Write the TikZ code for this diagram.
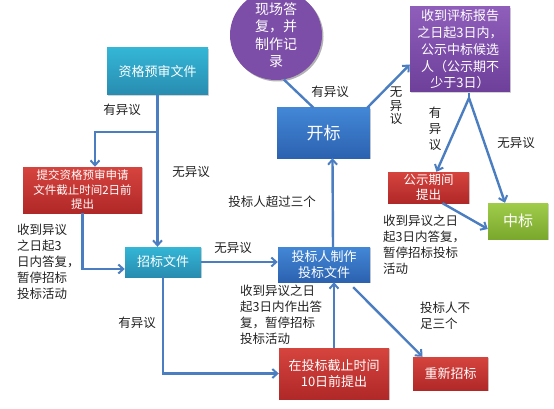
\documentclass[tikz,border=0pt]{standalone}
\usepackage{fontspec}
\setmainfont{Noto Sans CJK SC}
\usetikzlibrary{shadows,shapes.geometric,arrows.meta}
\definecolor{arrc}{HTML}{4A7EC0}
\definecolor{labc}{HTML}{222222}
\definecolor{purtop}{RGB}{142,94,186}
\definecolor{purbot}{RGB}{110,64,154}
\definecolor{purmid}{RGB}{124,78,168}
\begin{document}
\begin{tikzpicture}[x=1pt,y=-1pt,
  box/.style={draw=none,align=center,text=white,inner sep=1pt,font=\fontsize{13}{16.5}\selectfont,
    drop shadow={shadow xshift=1.2pt,shadow yshift=-1.2pt,opacity=0.35}},
  teal/.style={box,top color={rgb,255:red,52;green,182;blue,214},bottom color={rgb,255:red,40;green,140;blue,176}},
  bluebox/.style={box,top color={rgb,255:red,66;green,135;blue,214},bottom color={rgb,255:red,44;green,98;blue,176}},
  redbox/.style={box,top color={rgb,255:red,214;green,68;blue,62},bottom color={rgb,255:red,176;green,40;blue,40}},
  purbox/.style={box,top color=purtop,bottom color=purbot},
  grnbox/.style={box,top color={rgb,255:red,160;green,204;blue,74},bottom color={rgb,255:red,122;green,168;blue,44}},
  arr/.style={draw=arrc,line width=2.4pt,-{Straight Barb[length=5pt,width=9pt,line width=2pt]}},
  ln/.style={draw=arrc,line width=2.4pt},
  lab/.style={text=labc,inner sep=0pt,font=\fontsize{12.5}{16}\selectfont},
  labl/.style={lab,align=left,anchor=north west}]
\useasboundingbox (0,0) rectangle (554,409);
% nodes
\node[teal,minimum width=101pt,minimum height=47pt] (pre) at (157.5,71.5) {资格预审文件};
\node[redbox,minimum width=119pt,minimum height=46pt,font=\fontsize{11.5}{14.5}\selectfont] (redA) at (82.5,190) {提交资格预审申请\\文件截止时间2日前\\提出};
\node[teal,minimum width=76pt,minimum height=30pt] (zb) at (163,262) {招标文件};
\node[bluebox,minimum width=92pt,minimum height=35pt] (tb) at (324,264.5) {投标人制作\\投标文件};
\node[redbox,minimum width=110pt,minimum height=51pt] (redB) at (334,373.5) {在投标截止时间\\10日前提出};
\node[bluebox,minimum width=93pt,minimum height=50pt,font=\fontsize{17}{20}\selectfont] (kb) at (323.5,133) {开标};
\fill[black,opacity=0.3] (277.5,36.5) ellipse[x radius=46pt,y radius=45pt];
\node[ellipse,draw=none,fill=purmid,minimum width=92pt,minimum height=90pt,inner sep=0pt] (ell) at (276,35) {};
\node[align=center,text=white,inner sep=0pt,font=\fontsize{14}{17.5}\selectfont] (ellt) at (ell.center) {现场答\\复，并\\制作记\\录};
\node[purbox,minimum width=100pt,minimum height=85pt,font=\fontsize{13}{16.7}\selectfont] (pur) at (460,49.5) {收到评标报告\\之日起3日内，\\公示中标候选\\人（公示期不\\少于3日）};
\node[redbox,minimum width=81pt,minimum height=31pt,font=\fontsize{12.5}{15}\selectfont] (gs) at (428.5,187.5) {公示期间\\提出};
\node[grnbox,minimum width=60pt,minimum height=36pt,font=\fontsize{15}{18}\selectfont] (zhb) at (518,221) {中标};
\node[redbox,minimum width=75pt,minimum height=33pt] (cx) at (450.5,373.5) {重新招标};
% helper coordinates
\coordinate (br) at (157.5,132);
\coordinate (ps) at (469,98);
% connectors
\draw[arr] (pre.south) -- (pre.south |- zb.north);
\draw[arr] (br) -| ([xshift=12.5pt]redA.north);
\draw[arr] (redA.south) |- ([yshift=-7pt]zb.west);
\draw[arr] (zb.east) -- (zb.east -| tb.west);
\draw[arr] (zb.south) |- (redB.west);
\draw[arr] (redB.north) -- (redB.north |- tb.south);
\draw[arr] ([xshift=9pt]tb.north) -- ([xshift=9pt]kb.south);
\draw[ln] ([xshift=-10pt]kb.north) -- (ell.-80);
\draw[arr] ([xshift=-3pt]kb.north east) -- ([yshift=-15pt]pur.west);
\draw[ln] ([yshift=-1pt,xshift=9pt]pur.south) -- (ps);
\draw[arr] (ps) -- ([xshift=8pt]gs.north);
\draw[arr] (ps) -- ([xshift=-13pt]zhb.north);
\draw[arr] ([xshift=14pt]gs.south) -- ([yshift=-8pt]zhb.west);
\draw[arr] ([xshift=-17pt,yshift=-5pt]tb.south east) -- ([xshift=-28pt]cx.north);
% labels
\node[lab] (l1) at (122,110) {有异议};
\node[lab] (l2) at (191,172) {无异议};
\node[labl] (l3) at (17,224) {收到异议\\之日起3\\日内答复，\\暂停招标\\投标活动};
\node[lab] (l4) at (233,248) {无异议};
\node[lab] (l5) at (137,323) {有异议};
\node[lab] (l6) at (272,202) {投标人超过三个};
\node[labl] (l7) at (240,285) {收到异议之日\\起3日内作出答\\复，暂停招标\\投标活动};
\node[lab] (l8) at (330,92) {有异议};
\node[lab,align=center,font=\fontsize{12.5}{13.5}\selectfont] (l9) at (396,106) {无\\异\\议};
\node[lab,align=center,font=\fontsize{12.5}{16}\selectfont] (l10) at (435,129) {有\\异\\议};
\node[lab] (l11) at (516,143) {无异议};
\node[labl] (l12) at (383,215) {收到异议之日\\起3日内答复，\\暂停招标投标\\活动};
\node[labl] (l13) at (420,302) {投标人不\\足三个};
\end{tikzpicture}
\end{document}
